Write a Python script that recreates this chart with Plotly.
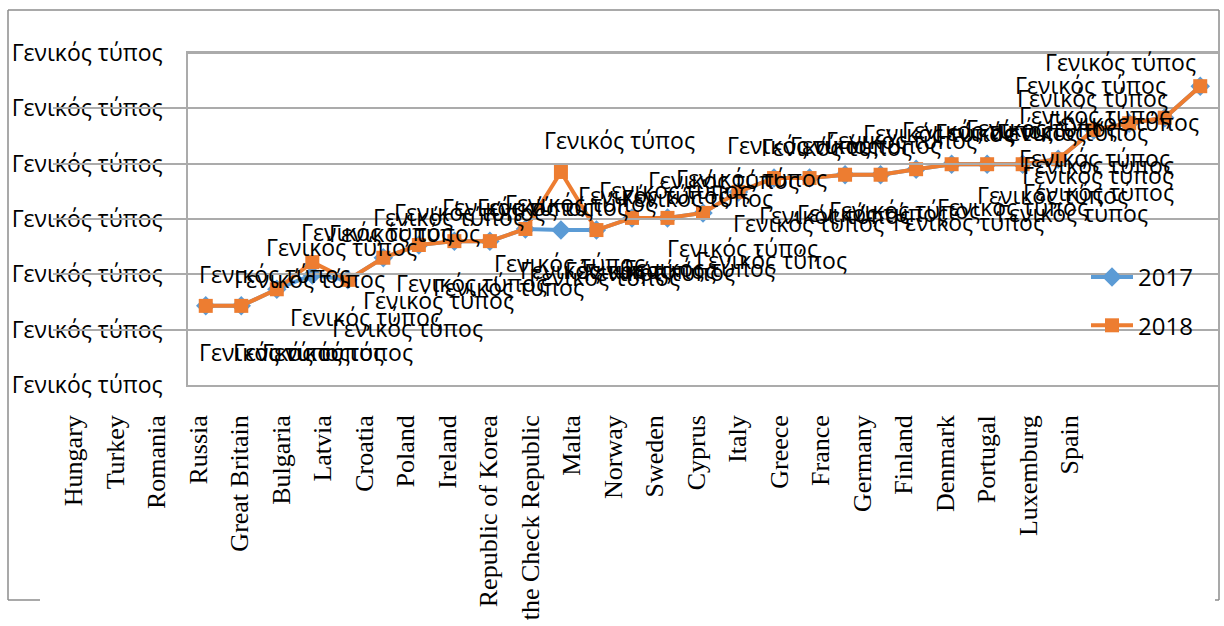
import plotly.graph_objects as go

# Country names shown under the chart
countries = ["Hungary", "Turkey", "Romania", "Russia", "Great Britain", "Bulgaria",
             "Latvia", "Croatia", "Poland", "Ireland", "Republic of Korea",
             "the Check Republic", "Malta", "Norway", "Sweden", "Cyprus", "Italy",
             "Greece", "France", "Germany", "Finland", "Denmark", "Portugal",
             "Luxemburg", "Spain"]

# Series values (one point per position on the hidden category axis)
positions = list(range(1, 30))
values_2017 = [14.3, 14.3, 17.3, 19.9, 19.0, 23.0, 25.3, 26.0, 26.0, 28.2, 28.0, 28.0,
               30.2, 30.2, 31.1, 34.9, 37.4, 37.4, 38.0, 38.0, 39.0, 39.9, 39.9, 39.9,
               40.8, 46.1, 47.3, 48.3, 54.0]
values_2018 = [14.3, 14.3, 17.3, 22.2, 19.0, 23.0, 25.3, 26.0, 26.0, 28.2, 38.5, 28.0,
               30.2, 30.2, 31.1, 34.9, 37.4, 37.4, 38.0, 38.0, 39.0, 39.9, 39.9, 39.9,
               40.8, 46.1, 47.3, 48.3, 54.0]

y_ticks = [0, 10, 20, 30, 40, 50, 60]
tick_text = "Γενικός τύπος"
label_text = "Γενικός τύπος"

# Pixel offsets (dx, dy) of each data label from its point
offsets_2018 = [(69, -32), (68, -27), (65, -42), (64, -30), (57, -47), (65, -41),
                (51, -33), (63, -34), (63, -34), (55, -26), (59, -32), (57, -35),
                (43, -28), (30, -20), (20, -33), (13, -14), (28, -33), (27, -31),
                (20, -30), (21, -35), (22, -36), (26, -34), (23, -32), (19, -36),
                (14, -27), (1, -15), (-6, -1), (-72, -20), (-80, -24)]
offsets_2017 = [(69, 46), (67, 46), (61, 63), (53, 42), (60, 48), (55, 42),
                (53, 38), (54, 46), (80, 22), (70, 41), (44, 47), (44, 40),
                (28, 54), (32, 50), (39, 35), (33, 68), (34, 45), (25, 37),
                (27, 38), (24, 35), (52, 53), (61, 43), (65, 31), (50, 49),
                (40, 33), (4, 45), (-31, 42), (-70, 40), (-110, -1)]

W, H = 1224, 626
BLUE = "#5B9BD5"
ORANGE = "#ED7D31"
GRID = "#ABABAB"
LABEL_FONT = dict(family="Open Sans", size=23, color="#000000")

fig = go.Figure()

fig.add_trace(go.Scatter(
    x=positions, y=values_2017, name="2017", mode="lines+markers",
    line=dict(color=BLUE, width=4),
    marker=dict(symbol="diamond", size=15, color=BLUE),
    legendgroup="a",
))
fig.add_trace(go.Scatter(
    x=positions, y=values_2018, name="2018", mode="lines+markers",
    line=dict(color=ORANGE, width=4),
    marker=dict(symbol="square", size=14, color=ORANGE),
    legendgroup="b",
))
# Carrier trace for the country axis
fig.add_trace(go.Scatter(
    x=list(range(len(countries))), y=[None] * len(countries),
    xaxis="x2", yaxis="y", showlegend=False, hoverinfo="skip", mode="markers",
))

annotations = []
for series_vals, offs in ((values_2017, offsets_2017), (values_2018, offsets_2018)):
    for xp, yv, (dx, dy) in zip(positions, series_vals, offs):
        annotations.append(dict(
            x=xp, y=yv, xref="x", yref="y", text=label_text, showarrow=False,
            xanchor="center", yanchor="middle", xshift=dx, yshift=-dy,
            font=LABEL_FONT,
        ))

px_x = lambda p: p / W
px_y = lambda p: 1 - p / H

plot_left, plot_right, plot_top, plot_bottom = 188, 1218, 53, 385
lab_first, lab_step = 74, 41.5

border = dict(color="#8C8C8C", width=1.5)
shapes = [
    dict(type="line", xref="paper", yref="paper", x0=px_x(8), x1=px_x(1219), y0=px_y(10), y1=px_y(10), line=border),
    dict(type="line", xref="paper", yref="paper", x0=px_x(8), x1=px_x(8), y0=px_y(10), y1=px_y(600), line=border),
    dict(type="line", xref="paper", yref="paper", x0=px_x(1219), x1=px_x(1219), y0=px_y(10), y1=px_y(600), line=border),
    dict(type="line", xref="paper", yref="paper", x0=px_x(8), x1=px_x(40), y0=px_y(600), y1=px_y(600), line=border),
    dict(type="line", xref="paper", yref="paper", x0=px_x(1215), x1=px_x(1219), y0=px_y(600), y1=px_y(600), line=border),
    # top gridline of the plot area
    dict(type="line", xref="paper", yref="paper", x0=px_x(plot_left), x1=px_x(plot_right),
         y0=px_y(plot_top), y1=px_y(plot_top), line=dict(color=GRID, width=2)),
]

fig.update_layout(
    width=W, height=H,
    margin=dict(l=0, r=0, t=0, b=0, autoexpand=False),
    paper_bgcolor="white", plot_bgcolor="rgba(0,0,0,0)",
    font=dict(family="Open Sans", color="#000000"),
    xaxis=dict(
        domain=[px_x(plot_left), px_x(plot_right)],
        range=[0.5, 29.5], showticklabels=False, showgrid=False,
        zeroline=False, showline=True, mirror=True, linecolor=GRID, linewidth=1.5,
        ticks="", automargin=False,
    ),
    xaxis2=dict(
        domain=[px_x(lab_first - lab_step / 2), px_x(lab_first + lab_step * 24.5)],
        range=[-0.5, len(countries) - 0.5], anchor="free", position=px_y(409),
        tickmode="array", tickvals=list(range(len(countries))), ticktext=countries,
        tickangle=-90, tickfont=dict(family="Liberation Serif", size=26, color="#000000"),
        showgrid=False, zeroline=False, showline=False, ticks="", automargin=False,
    ),
    yaxis=dict(
        domain=[px_y(plot_bottom), px_y(plot_top)],
        range=[0, 60], tickmode="array", tickvals=y_ticks,
        ticktext=[tick_text] * len(y_ticks),
        tickfont=dict(family="Open Sans", size=23, color="#000000"),
        showgrid=True, gridcolor=GRID, gridwidth=1.5,
        showline=True, linecolor=GRID, linewidth=1.5,
        zeroline=False, ticks="", ticklabelstandoff=19, automargin=False,
    ),
    legend=dict(
        x=px_x(1086), y=px_y(255), xanchor="left", yanchor="top",
        font=dict(family="Open Sans", size=24, color="#000000"),
        bgcolor="rgba(0,0,0,0)", tracegroupgap=14, itemwidth=42,
    ),
    annotations=annotations,
    shapes=shapes,
    showlegend=True,
)

fig.write_html("out.html")
